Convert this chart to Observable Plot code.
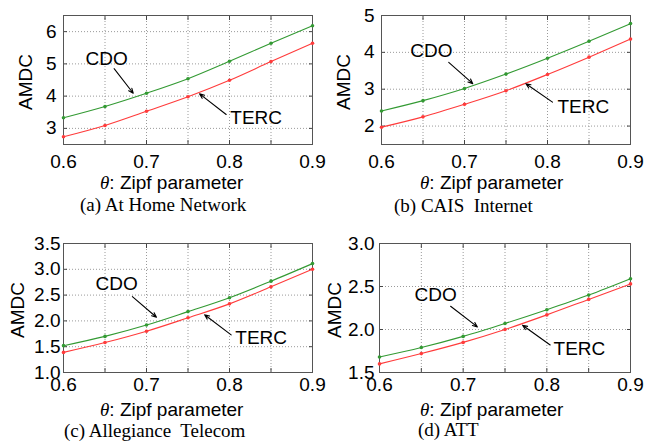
<!DOCTYPE html>
<html><head><meta charset="utf-8">
<script src="https://cdn.jsdelivr.net/npm/d3@7"></script>
<script src="https://cdn.jsdelivr.net/npm/@observablehq/plot@0.6"></script>
<style>
body{margin:0;background:#fff}
#root{position:relative;width:646px;height:442px;overflow:hidden;background:#fff;font-family:"Liberation Sans",Arial,sans-serif}
.panel{position:absolute}
.xl{position:absolute;font-family:"Liberation Sans",Arial,sans-serif;font-size:19px;line-height:19px;white-space:pre;color:#000}
.yl{position:absolute;font-family:"Liberation Sans",Arial,sans-serif;font-size:19px;line-height:19px;white-space:pre;color:#000;writing-mode:vertical-rl;transform:rotate(180deg);width:19px;height:56px;text-align:center}
.cap{position:absolute;font-family:"Liberation Serif","Times New Roman",serif;font-size:19px;line-height:19px;white-space:pre;color:#000}
</style></head>
<body><div id="root"></div>
<script>
// x values (Zipf parameter)
const theta = [0.6, 0.65, 0.7, 0.75, 0.8, 0.85, 0.9];
const xTickLabels = [0.6, 0.7, 0.8, 0.9];
const xGridTicks = [0.6, 0.65, 0.7, 0.75, 0.8, 0.85, 0.9];

// (a) At Home Network
const cdoA = [3.33, 3.68, 4.09, 4.54, 5.08, 5.64, 6.18];
const tercA = [2.74, 3.09, 3.53, 3.98, 4.49, 5.07, 5.64];
const yTicksA = [3, 4, 5, 6];
// (b) CAIS Internet
const cdoB = [2.41, 2.69, 3.02, 3.41, 3.84, 4.30, 4.78];
const tercB = [1.97, 2.25, 2.59, 2.96, 3.40, 3.87, 4.36];
const yTicksB = [2, 3, 4, 5];
// (c) Allegiance Telecom
const cdoC = [1.52, 1.70, 1.92, 2.18, 2.45, 2.77, 3.11];
const tercC = [1.39, 1.58, 1.80, 2.06, 2.33, 2.66, 3.00];
const yTicksC = [1.0, 1.5, 2.0, 2.5, 3.0, 3.5];
// (d) ATT
const cdoD = [1.68, 1.79, 1.92, 2.07, 2.23, 2.40, 2.59];
const tercD = [1.60, 1.72, 1.85, 2.00, 2.17, 2.35, 2.53];
const yTicksD = [1.5, 2.0, 2.5, 3.0];

const seriesNames = ["CDO", "TERC"];
const captions = ["(a) At Home Network", "(b) CAIS  Internet", "(c) Allegiance  Telecom", "(d) ATT"];
const xLabelText = ": Zipf parameter";
const yLabelText = "AMDC";

// annotation anchors (data units): text position, arrow tail -> head
const annA = {cdoText: [0.652, 5.15], cdoArrow: [0.661, 4.85, 0.684, 4.09], tercText: [0.801, 3.31], tercArrow: [0.796, 3.43, 0.764, 4.07]};
const annB = {cdoText: [0.660, 4.04], cdoArrow: [0.681, 3.73, 0.710, 3.15], tercText: [0.812, 2.52], tercArrow: [0.806, 2.65, 0.774, 3.15]};
const annC = {cdoText: [0.664, 2.71], cdoArrow: [0.683, 2.47, 0.712, 2.07], tercText: [0.807, 1.67], tercArrow: [0.802, 1.73, 0.770, 2.12]};
const annD = {cdoText: [0.667, 2.40], cdoArrow: [0.685, 2.27, 0.717, 2.03], tercText: [0.808, 1.77], tercArrow: [0.804, 1.82, 0.771, 2.05]};

const GREEN = "#339a33", RED = "#ff3b3b";

const panels = [
  {cdo: cdoA, terc: tercA, yDomain: [2.5, 6.5], yTicks: yTicksA, fmt: d => d.toFixed(0), ann: annA,
   left: 0, top: 0, mLeft: 63, xPad: 10, yPad: 7,
   yl: [16, 54], xl: [100, 173], cap: [80, 195], caption: captions[0]},
  {cdo: cdoB, terc: tercB, yDomain: [1.5, 5], yTicks: yTicksB, fmt: d => d.toFixed(0), ann: annB,
   left: 318, top: 0, mLeft: 63, xPad: 10, yPad: 7,
   yl: [334, 54], xl: [420, 173], cap: [394, 196], caption: captions[1]},
  {cdo: cdoC, terc: tercC, yDomain: [1, 3.5], yTicks: yTicksC, fmt: d => d.toFixed(1), ann: annC,
   left: 0, top: 228, mLeft: 63, xPad: 5, yPad: 3,
   yl: [8, 282], xl: [100, 400], cap: [64, 421], caption: captions[2]},
  {cdo: cdoD, terc: tercD, yDomain: [1.5, 3], yTicks: yTicksD, fmt: d => d.toFixed(1), ann: annD,
   left: 318, top: 228, mLeft: 61, xPad: 5, yPad: 5,
   yl: [325, 282], xl: [420, 400], cap: [418, 420], caption: captions[3]}
];

const root = document.getElementById("root");

for (const p of panels) {
  const rows = theta.flatMap((t, i) => [
    {t, v: p.cdo[i], s: seriesNames[0]},
    {t, v: p.terc[i], s: seriesNames[1]}
  ]);
  const cdoLabel = [{x: p.ann.cdoText[0], y: p.ann.cdoText[1], label: seriesNames[0]}];
  const tercLabel = [{x: p.ann.tercText[0], y: p.ann.tercText[1], label: seriesNames[1]}];
  const arrows = [
    {x1: p.ann.cdoArrow[0], y1: p.ann.cdoArrow[1], x2: p.ann.cdoArrow[2], y2: p.ann.cdoArrow[3]},
    {x1: p.ann.tercArrow[0], y1: p.ann.tercArrow[1], x2: p.ann.tercArrow[2], y2: p.ann.tercArrow[3]}
  ];
  const svg = Plot.plot({
    width: 320, height: 174,
    marginLeft: p.mLeft, marginRight: 8, marginTop: 15, marginBottom: 30,
    x: {domain: [0.6, 0.9]},
    y: {domain: p.yDomain},
    color: {domain: seriesNames, range: [GREEN, RED]},
    style: {background: "transparent", overflow: "visible", fontFamily: "'Liberation Sans', Arial, sans-serif", fontSize: "19px", color: "#000"},
    marks: [
      Plot.gridX(xGridTicks, {stroke: "#9a9a9a", strokeOpacity: 1, strokeDasharray: "1,2"}),
      Plot.gridY(p.yTicks, {stroke: "#9a9a9a", strokeOpacity: 1, strokeDasharray: "1,2"}),
      Plot.axisX(xTickLabels, {tickSize: 0, tickPadding: p.xPad, tickFormat: d => d.toFixed(1), label: null, fontSize: 19}),
      Plot.axisX(xGridTicks, {anchor: "bottom", tickSize: -4, fill: "none", stroke: "#444"}),
      Plot.axisX(xGridTicks, {anchor: "top", tickSize: -4, fill: "none", stroke: "#444"}),
      Plot.axisY(p.yTicks, {tickSize: 0, tickPadding: p.yPad, tickFormat: p.fmt, fontSize: 19, label: null}),
      Plot.axisY(p.yTicks, {anchor: "left", tickSize: -4, fill: "none", stroke: "#444"}),
      Plot.axisY(p.yTicks, {anchor: "right", tickSize: -4, fill: "none", stroke: "#444"}),
      Plot.frame({stroke: "#555"}),
      Plot.line(rows, {x: "t", y: "v", z: "s", stroke: "s", strokeWidth: 1.1, curve: "monotone-x"}),
      Plot.dot(rows, {x: "t", y: "v", fill: "s", r: 1.8}),
      Plot.text(cdoLabel, {x: "x", y: "y", text: "label", textAnchor: "middle", fontSize: 19, fill: "#000"}),
      Plot.text(tercLabel, {x: "x", y: "y", text: "label", textAnchor: "start", fontSize: 19, fill: "#000"}),
      Plot.arrow(arrows, {x1: "x1", y1: "y1", x2: "x2", y2: "y2", stroke: "#000", strokeWidth: 1.1, headLength: 7, headAngle: 45})
    ]
  });
  const wrap = document.createElement("div");
  wrap.className = "panel";
  wrap.style.left = p.left + "px";
  wrap.style.top = p.top + "px";
  wrap.appendChild(svg);
  root.appendChild(wrap);

  const yl = document.createElement("div");
  yl.className = "yl";
  yl.style.left = p.yl[0] + "px";
  yl.style.top = p.yl[1] + "px";
  yl.textContent = yLabelText;
  root.appendChild(yl);

  const xl = document.createElement("div");
  xl.className = "xl";
  xl.style.left = p.xl[0] + "px";
  xl.style.top = p.xl[1] + "px";
  const th = document.createElement("span");
  th.style.fontFamily = "'Liberation Serif','Times New Roman',serif";
  th.style.fontStyle = "italic";
  th.textContent = "θ";
  xl.appendChild(th);
  xl.appendChild(document.createTextNode(xLabelText));
  root.appendChild(xl);

  const cap = document.createElement("div");
  cap.className = "cap";
  cap.style.left = p.cap[0] + "px";
  cap.style.top = p.cap[1] + "px";
  cap.textContent = p.caption;
  root.appendChild(cap);
}
</script>
</body></html>
